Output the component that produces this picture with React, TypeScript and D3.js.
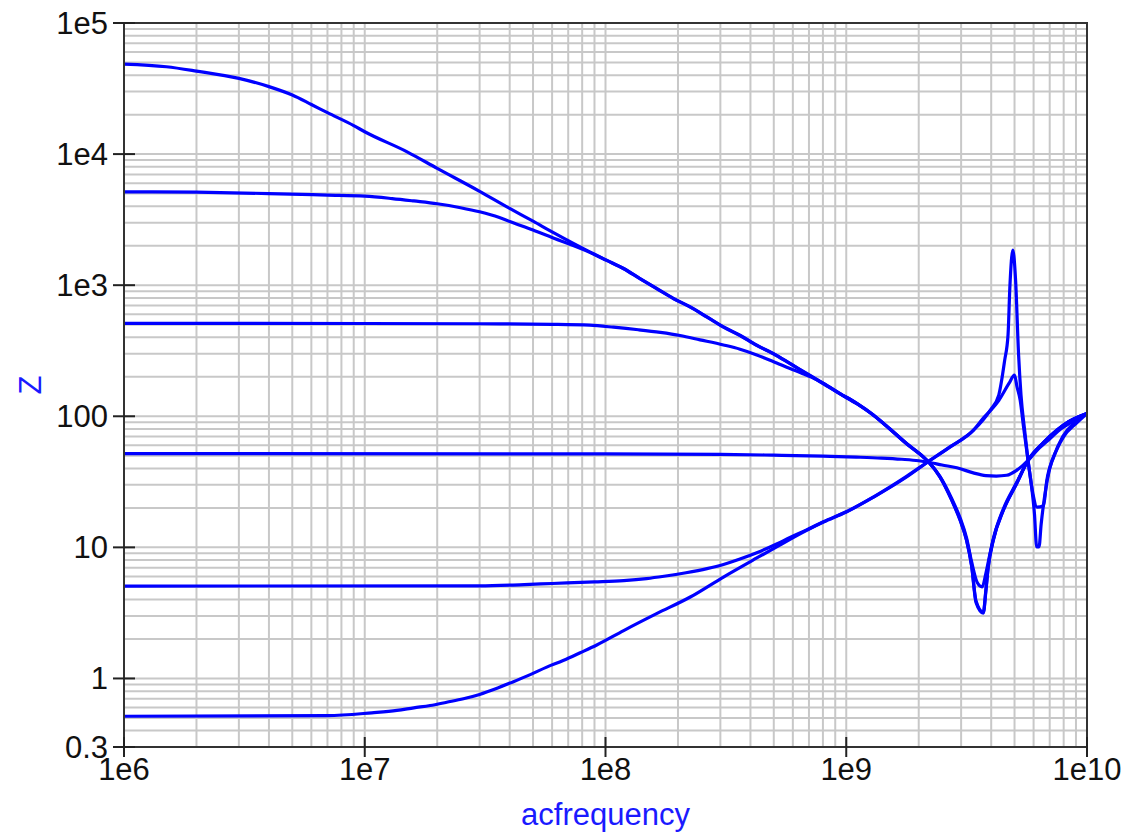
import React from "react";
import * as d3 from "d3";

const WIDTH = 1140;
const HEIGHT = 832;

// Axis domains, ticks and titles
const xDomain: [number, number] = [1e6, 1e10];
const yDomain: [number, number] = [0.3, 1e5];
const xTickValues = [1e6, 1e7, 1e8, 1e9, 1e10];
const xTickLabels = ["1e6", "1e7", "1e8", "1e9", "1e10"];
const yTickValues = [0.3, 1, 10, 100, 1e3, 1e4, 1e5];
const yTickLabels = ["0.3", "1", "10", "100", "1e3", "1e4", "1e5"];
const xTitle = "acfrequency";
const yTitle = "Z";

// Impedance sweeps, [frequency (Hz), |Z| (ohm)]
const zLoad50k: [number, number][] = [
  [1e6, 48600], [1.5e6, 46400], [2e6, 43000], [3e6, 37800], [4e6, 32700],
  [5e6, 28200], [6e6, 23900], [7e6, 20700], [9e6, 16500], [1e7, 14800],
  [1.5e7, 10400], [2e7, 7780], [3e7, 5200], [4e7, 3850], [5e7, 3080],
  [6e7, 2550], [8.6e7, 1795], [1.01e8, 1552], [1.19e8, 1340], [1.39e8, 1124],
  [1.63e8, 944], [1.92e8, 791], [2.25e8, 683], [2.64e8, 573], [3.09e8, 481],
  [3.62e8, 415], [4.25e8, 348], [4.98e8, 301], [5.84e8, 253], [6.85e8, 212],
  [8.04e8, 178], [9.42e8, 149], [1.11e9, 125], [1.3e9, 102], [1.52e9, 80],
  [1.78e9, 62], [2.09e9, 49], [2.2e9, 44.8], [2.45e9, 34.4], [2.74e9, 22.9],
  [2.97e9, 16.1], [3.16e9, 11.3], [3.32e9, 7.1], [3.46e9, 3.8], [3.71e9, 3.15],
  [3.8e9, 4.6], [3.89e9, 7.1], [4.08e9, 11.3], [4.49e9, 19.1], [5.1e9, 30.6],
  [5.69e9, 46], [6.6e9, 63], [7.48e9, 78], [8.4e9, 91], [1e10, 105],
];

const zLoad5k: [number, number][] = [
  [1e6, 5150], [2e6, 5120], [4e6, 5000], [7e6, 4870], [1e7, 4780],
  [1.3e7, 4580], [1.6e7, 4390], [2e7, 4180], [2.5e7, 3900], [3e7, 3630],
  [3.6e7, 3300], [4e7, 3060], [5e7, 2640], [6e7, 2310], [8.6e7, 1780],
  [1.01e8, 1545], [1.19e8, 1335], [1.39e8, 1120], [1.63e8, 940], [1.92e8, 788],
  [2.25e8, 680], [2.64e8, 571], [3.09e8, 479], [3.62e8, 413], [4.25e8, 347],
  [4.98e8, 300], [5.84e8, 252], [6.85e8, 211], [8.04e8, 177], [9.42e8, 148],
  [1.11e9, 124], [1.3e9, 101.5], [1.52e9, 79.6], [1.78e9, 61.7], [2.09e9, 48.8],
  [2.2e9, 44.7], [2.45e9, 34.5], [2.74e9, 23.1], [2.97e9, 16.3], [3.16e9, 11.4],
  [3.32e9, 7.2], [3.46e9, 3.9], [3.71e9, 3.2], [3.8e9, 4.7], [3.89e9, 7.2],
  [4.08e9, 11.4], [4.49e9, 19.2], [5.1e9, 30.7], [5.69e9, 46], [6.6e9, 63],
  [7.48e9, 78], [8.4e9, 91], [1e10, 105],
];

const zLoad500: [number, number][] = [
  [1e6, 511], [1e7, 510], [3e7, 508], [6e7, 503], [8.6e7, 495],
  [1.08e8, 478], [1.37e8, 457], [1.69e8, 436], [2.04e8, 413], [2.47e8, 383],
  [3.09e8, 350], [3.62e8, 325], [4.25e8, 294], [5.14e8, 255], [5.84e8, 231],
  [6.5e8, 214], [7.2e8, 198], [8.04e8, 178], [9.42e8, 149], [1.11e9, 125],
  [1.3e9, 102], [1.52e9, 80], [1.78e9, 62], [2.09e9, 49], [2.2e9, 44.6],
  [2.45e9, 34.8], [2.74e9, 23.6], [2.97e9, 16.8], [3.16e9, 11.8], [3.32e9, 7.7],
  [3.5e9, 5.4], [3.67e9, 5.0], [3.8e9, 6.3], [3.92e9, 8.3], [4.1e9, 12],
  [4.5e9, 19.8], [5.1e9, 31.2], [5.69e9, 46.2], [6.6e9, 63.2], [7.48e9, 78.2],
  [8.4e9, 91], [1e10, 105],
];

const zLoad50: [number, number][] = [
  [1e6, 51.9], [1e8, 51.7], [3e8, 51.2], [5e8, 50.5], [8e8, 49.6],
  [1.1e9, 48.8], [1.4e9, 48.0], [1.7e9, 47.0], [2e9, 45.8], [2.2e9, 44.6],
  [2.5e9, 42.5], [2.88e9, 40.5], [3.37e9, 37], [3.8e9, 35.3], [4.2e9, 35],
  [4.64e9, 35.5], [5.1e9, 38.7], [5.4e9, 42], [5.69e9, 46], [6.2e9, 55],
  [6.8e9, 64], [7.71e9, 79], [8.8e9, 92], [1e10, 105],
];

const zLoad5: [number, number][] = [
  [1e6, 5.07], [3e7, 5.08], [4.6e7, 5.2], [6e7, 5.3], [9e7, 5.45],
  [1.19e8, 5.58], [1.48e8, 5.78], [1.75e8, 6.02], [2.16e8, 6.4], [2.64e8, 6.88],
  [3.09e8, 7.4], [3.62e8, 8.15], [4.25e8, 9.1], [5.14e8, 10.6], [5.84e8, 11.9],
  [6.85e8, 13.6], [8.04e8, 15.7], [1e9, 18.7], [1.3e9, 24.3], [1.78e9, 34.8],
  [2.18e9, 44.8], [2.7e9, 58.4], [3.37e9, 78], [3.71e9, 97], [3.96e9, 110],
  [4.3e9, 132], [4.74e9, 178], [5.0e9, 206], [5.12e9, 168], [5.28e9, 132],
  [5.45e9, 83], [5.69e9, 46], [5.96e9, 25.7], [6.2e9, 20.3], [6.6e9, 20.8],
  [6.8e9, 32], [7.27e9, 49], [7.93e9, 70], [8.9e9, 90], [1e10, 105],
];

const zLoad05: [number, number][] = [
  [1e6, 0.515], [7e6, 0.52], [1.07e7, 0.547], [1.36e7, 0.57], [1.6e7, 0.597],
  [1.87e7, 0.622], [2.19e7, 0.659], [2.57e7, 0.70], [3.0e7, 0.755], [3.5e7, 0.834],
  [4.1e7, 0.937], [4.87e7, 1.07], [5.7e7, 1.22], [6.67e7, 1.37], [7.85e7, 1.57],
  [9.2e7, 1.8], [1.19e8, 2.32], [1.63e8, 3.12], [2.25e8, 4.18], [3.09e8, 5.94],
  [4.25e8, 8.3], [5.14e8, 10.1], [6.85e8, 13.5], [8.04e8, 15.6], [1e9, 18.6],
  [1.3e9, 24.2], [1.78e9, 34.4], [2.18e9, 44.8], [2.7e9, 58.4], [3.37e9, 78],
  [3.96e9, 111], [4.3e9, 145], [4.55e9, 267], [4.7e9, 420], [4.78e9, 950],
  [4.92e9, 1850], [5.05e9, 1100], [5.2e9, 290], [5.32e9, 145], [5.5e9, 80],
  [5.69e9, 46], [5.9e9, 28], [6.05e9, 18], [6.18e9, 10.1], [6.32e9, 10.1],
  [6.45e9, 15], [6.7e9, 26], [7e9, 40], [7.5e9, 56], [8e9, 70],
  [9e9, 88], [1e10, 105],
];

const sweeps = [zLoad50k, zLoad5k, zLoad500, zLoad50, zLoad5, zLoad05];

const FONT = "'Liberation Sans', Arial, Helvetica, sans-serif";

export default function App() {
  const left = 124;
  const right = 1087;
  const top = 23;
  const bottom = 747;

  const x = d3.scaleLog().domain(xDomain).range([left, right]);
  const y = d3.scaleLog().domain(yDomain).range([bottom, top]);

  const xGrid = x.ticks();
  const yGrid = y.ticks();

  const line = d3
    .line<[number, number]>()
    .x((d) => x(d[0]))
    .y((d) => y(d[1]))
    .curve(d3.curveMonotoneX);

  return (
    <svg
      width={WIDTH}
      height={HEIGHT}
      viewBox={`0 0 ${WIDTH} ${HEIGHT}`}
      style={{ position: "absolute", left: 0, top: 0, background: "#fff" }}
    >
      <rect x={0} y={0} width={WIDTH} height={HEIGHT} fill="#fff" />
      {/* grid */}
      <g stroke="#c8c8c8" strokeWidth={2}>
        {xGrid.map((v, i) => (
          <line key={`gx${i}`} x1={x(v)} x2={x(v)} y1={top} y2={bottom} />
        ))}
        {yGrid.map((v, i) => (
          <line key={`gy${i}`} x1={left} x2={right} y1={y(v)} y2={y(v)} />
        ))}
      </g>

      {/* impedance curves */}
      <g fill="none" stroke="#0000ff" strokeWidth={3.2} strokeLinejoin="round">
        {sweeps.map((s, i) => (
          <path key={`s${i}`} d={line(s) || ""} />
        ))}
      </g>

      {/* frame */}
      <rect
        x={left}
        y={top}
        width={right - left}
        height={bottom - top}
        fill="none"
        stroke="#333"
        strokeWidth={2}
      />

      {/* ticks */}
      <g stroke="#222" strokeWidth={2}>
        {xTickValues.map((v, i) => (
          <line key={`tx${i}`} x1={x(v)} x2={x(v)} y1={bottom - 10} y2={bottom + 10} />
        ))}
        {yTickValues.map((v, i) => (
          <line key={`ty${i}`} x1={left - 11} x2={left + 11} y1={y(v)} y2={y(v)} />
        ))}
      </g>

      {/* tick labels */}
      <g fontFamily={FONT} fontSize={31} fill="#111">
        {xTickValues.map((v, i) => (
          <text key={`lx${i}`} x={x(v)} y={780} textAnchor="middle">
            {xTickLabels[i]}
          </text>
        ))}
        {yTickValues.map((v, i) => (
          <text key={`ly${i}`} x={108} y={y(v) + 11} textAnchor="end">
            {yTickLabels[i]}
          </text>
        ))}
      </g>

      {/* axis titles */}
      <text
        x={(left + right) / 2}
        y={825}
        textAnchor="middle"
        fontFamily={FONT}
        fontSize={31}
        fill="#1a1aff"
      >
        {xTitle}
      </text>
      <text
        transform={`translate(41, ${(top + bottom) / 2}) rotate(-90)`}
        textAnchor="middle"
        fontFamily={FONT}
        fontSize={31}
        fill="#1a1aff"
      >
        {yTitle}
      </text>
    </svg>
  );
}
